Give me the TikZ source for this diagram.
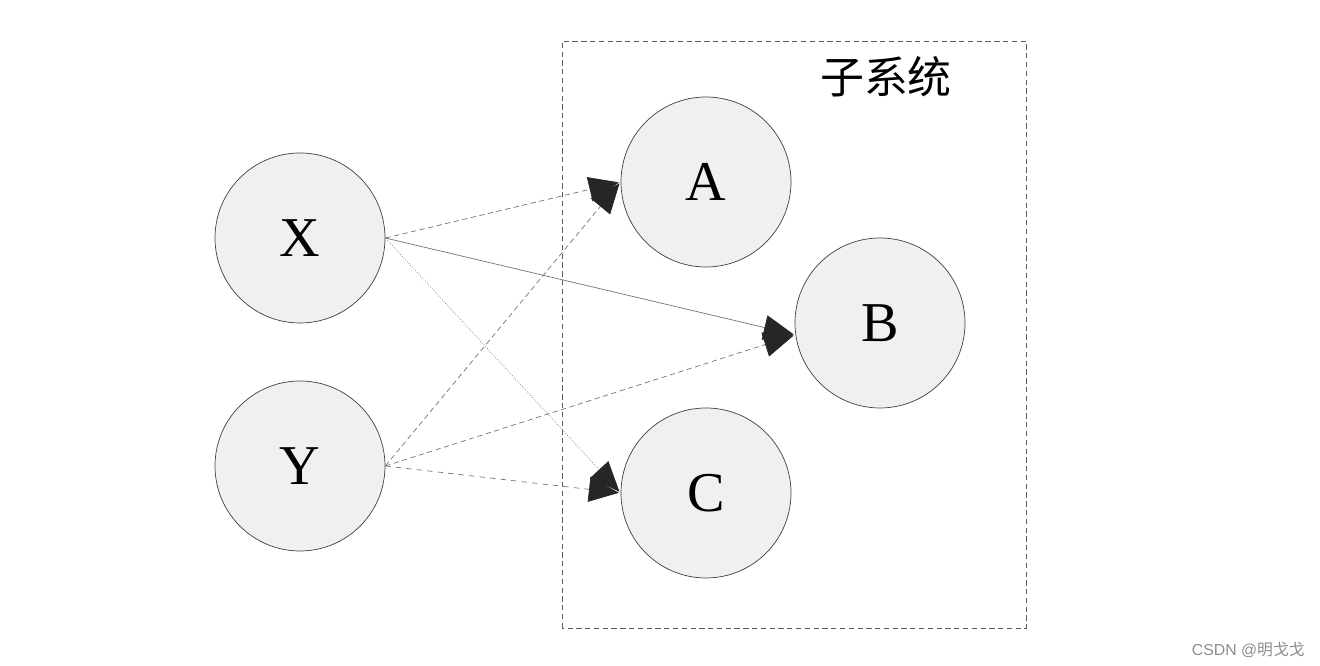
\documentclass[tikz,border=0pt]{standalone}
\usepackage{fontspec}
\setmainfont{Liberation Serif}
\newfontfamily\cjk{Noto Sans CJK SC}
\usepackage{xcolor}
\usetikzlibrary{calc}
\usetikzlibrary{arrows.meta}

\begin{document}
\begin{tikzpicture}

\tikzset{
    etat/.style = {
    circle,
    minimum size = 3.4cm,
    inner sep = 0pt
    }
}

\tikzstyle{noeud}=[draw=black!75, thin, fill=black!6, etat, font=\fontsize{32}{36}\selectfont]
\tikzstyle{fleche}=[draw=black!55, thin, -{Triangle[length=0.6cm,width=0.5cm,color=black!85]}, shorten >=1pt]

\useasboundingbox (0,0) rectangle (26.4,13.32);

% le sous-systeme
\draw[densely dashed, black!65] (11.24,0.76) rectangle (20.52,12.5);
\node (titre) at (17.72,11.78) {\cjk\fontsize{25}{30}\selectfont 子系统};

\node (n-x) [noeud] at (6.0,8.56) {X};
\node (n-y) [noeud] at (6.0,4.0) {Y};

\node (n-a) [noeud] at (14.12,9.68) {A};
\node (n-b) [noeud] at (17.6,6.86) {B};
\node (n-c) [noeud] at (14.12,3.46) {C};

\draw[fleche, densely dashed] (n-x.east) -- (n-a.west);
\draw[fleche] (n-x.east) -- (n-b.188);
\draw[fleche, densely dotted] (n-x.east) -- (n-c.west);
\draw[fleche, densely dashed] (n-y.east) -- (n-a.west);
\draw[fleche, densely dashed] (n-y.east) -- (n-b.188);
\draw[fleche, dashed] (n-y.east) -- (n-c.west);

\node (marque) [anchor=east, inner sep=0pt, text=black!45, font=\fontspec{Liberation Sans}\fontsize{9}{11}\selectfont] at (26.1,0.32) {CSDN @{\cjk 明戈戈}};

\end{tikzpicture}
\end{document}
